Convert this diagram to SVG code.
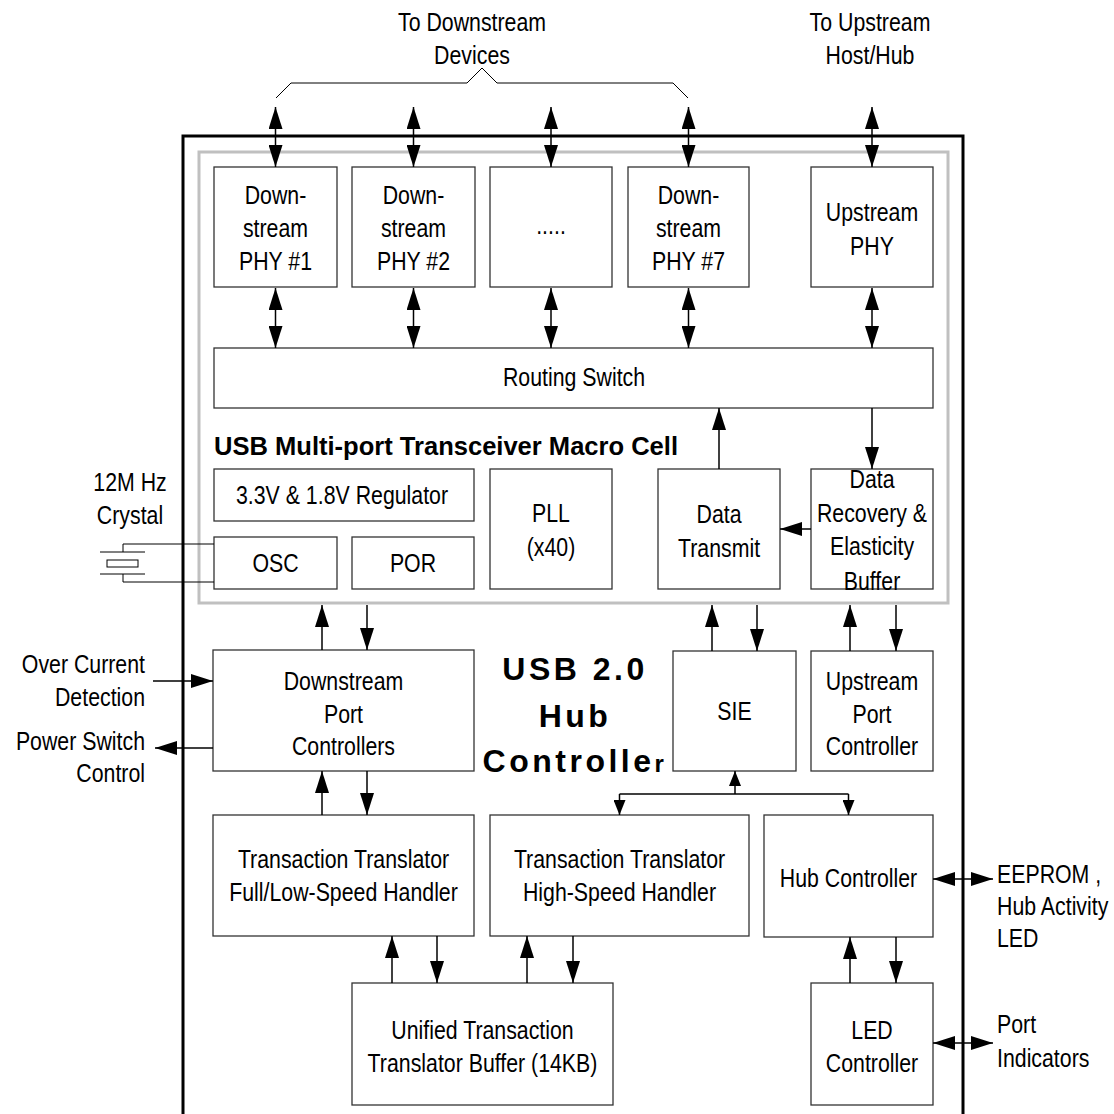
<svg xmlns="http://www.w3.org/2000/svg" width="1114" height="1114" viewBox="0 0 1114 1114">
<style>
.box{fill:#fff;stroke:#333;stroke-width:1.3}
.t{font-family:"Liberation Sans",Arial,sans-serif;font-size:26px;text-anchor:middle;fill:#000}
.l{text-anchor:start}
.r{text-anchor:end}
.c{stroke:#000;stroke-width:1.5;fill:none}
.thin{stroke:#000;stroke-width:1;fill:none}
.big{font-family:"Liberation Sans",Arial,sans-serif;font-weight:bold;font-size:32px;letter-spacing:3.5px;text-anchor:middle}
</style>
<defs>
<marker id="ah" viewBox="0 0 22 14" refX="22" refY="7" markerWidth="22" markerHeight="14" markerUnits="userSpaceOnUse" orient="auto-start-reverse"><path d="M0,0 L22,7 L0,14 z" fill="#000"/></marker>
<marker id="sm" viewBox="0 0 15 12" refX="15" refY="6" markerWidth="15" markerHeight="12" markerUnits="userSpaceOnUse" orient="auto-start-reverse"><path d="M0,0 L15,6 L0,12 z" fill="#000"/></marker>
</defs>
<rect width="1114" height="1114" fill="#fff"/>

<g id="outer-hub">
<rect x="183" y="136" width="780" height="1000" fill="none" stroke="#000" stroke-width="3"/>
</g>
<g id="macro-cell">
<rect x="199" y="152" width="749" height="451" fill="none" stroke="#c0c0c0" stroke-width="3"/>
<text class="t l" x="214" y="455" font-weight="bold" font-size="27" textLength="464" lengthAdjust="spacingAndGlyphs">USB Multi-port Transceiver Macro Cell</text>
</g>

<g id="phy1"><rect class="box" x="214" y="167" width="123" height="120"/><g transform="translate(275.5,0) scale(0.82,1)"><text class="t" x="0" y="204">Down-</text><text class="t" x="0" y="237">stream</text><text class="t" x="0" y="270">PHY #1</text></g></g>
<g id="phy2"><rect class="box" x="352" y="167" width="123" height="120"/><g transform="translate(413.5,0) scale(0.82,1)"><text class="t" x="0" y="204">Down-</text><text class="t" x="0" y="237">stream</text><text class="t" x="0" y="270">PHY #2</text></g></g>
<g id="phy-more"><rect class="box" x="490" y="167" width="122" height="120"/><g transform="translate(551,0) scale(0.82,1)"><text class="t" x="0" y="234">.....</text></g></g>
<g id="phy7"><rect class="box" x="628" y="167" width="121" height="120"/><g transform="translate(688.5,0) scale(0.82,1)"><text class="t" x="0" y="204">Down-</text><text class="t" x="0" y="237">stream</text><text class="t" x="0" y="270">PHY #7</text></g></g>
<g id="upstream-phy"><rect class="box" x="811" y="167" width="122" height="120"/><g transform="translate(872,0) scale(0.82,1)"><text class="t" x="0" y="221">Upstream</text><text class="t" x="0" y="255">PHY</text></g></g>

<g id="routing-switch"><rect class="box" x="214" y="348" width="719" height="60"/><g transform="translate(574,0) scale(0.82,1)"><text class="t" x="0" y="386">Routing Switch</text></g></g>

<g id="regulator"><rect class="box" x="214" y="469" width="260" height="52"/><g transform="translate(342,0) scale(0.82,1)"><text class="t" x="0" y="504">3.3V &amp; 1.8V Regulator</text></g></g>
<g id="osc"><rect class="box" x="214" y="537" width="123" height="52"/><g transform="translate(275.5,0) scale(0.82,1)"><text class="t" x="0" y="572">OSC</text></g></g>
<g id="por"><rect class="box" x="352" y="537" width="122" height="52"/><g transform="translate(413,0) scale(0.82,1)"><text class="t" x="0" y="572">POR</text></g></g>
<g id="pll"><rect class="box" x="490" y="469" width="122" height="120"/><g transform="translate(551,0) scale(0.82,1)"><text class="t" x="0" y="522">PLL</text><text class="t" x="0" y="556">(x40)</text></g></g>
<g id="data-transmit"><rect class="box" x="658" y="469" width="122" height="120"/><g transform="translate(719,0) scale(0.82,1)"><text class="t" x="0" y="523">Data</text><text class="t" x="0" y="557">Transmit</text></g></g>
<g id="data-recovery"><rect class="box" x="811" y="469" width="122" height="120"/><g transform="translate(872,0) scale(0.82,1)"><text class="t" x="0" y="488">Data</text><text class="t" x="0" y="522">Recovery &amp;</text><text class="t" x="0" y="555">Elasticity</text><text class="t" x="0" y="590">Buffer</text></g></g>

<g id="crystal">
<g transform="translate(130,0) scale(0.82,1)"><text class="t" x="0" y="491">12M Hz</text><text class="t" x="0" y="524">Crystal</text></g>
<path class="thin" d="M214,544 H123 V552 M100,552 H145 M100,574 H145 M123,574 V582 H214"/>
<rect x="107" y="560" width="31" height="7" fill="#fff" stroke="#000" stroke-width="1"/>
</g>

<g id="title">
<text class="big" x="575" y="680">USB 2.0</text>
<text class="big" x="575" y="727">Hub</text>
<text class="big" x="575" y="772">Controlle<tspan font-size="24">r</tspan></text>
</g>

<g id="downstream-port-controllers"><rect class="box" x="213" y="650" width="261" height="121"/><g transform="translate(343.5,0) scale(0.82,1)"><text class="t" x="0" y="690">Downstream</text><text class="t" x="0" y="723">Port</text><text class="t" x="0" y="755">Controllers</text></g></g>
<g id="sie"><rect class="box" x="673" y="651" width="123" height="120"/><g transform="translate(734.5,0) scale(0.82,1)"><text class="t" x="0" y="720">SIE</text></g></g>
<g id="upstream-port-controller"><rect class="box" x="811" y="651" width="122" height="120"/><g transform="translate(872,0) scale(0.82,1)"><text class="t" x="0" y="690">Upstream</text><text class="t" x="0" y="723">Port</text><text class="t" x="0" y="755">Controller</text></g></g>

<g id="tt-fls"><rect class="box" x="213" y="815" width="261" height="121"/><g transform="translate(343.5,0) scale(0.82,1)"><text class="t" x="0" y="868">Transaction Translator</text><text class="t" x="0" y="901">Full/Low-Speed Handler</text></g></g>
<g id="tt-hs"><rect class="box" x="490" y="815" width="259" height="121"/><g transform="translate(619.5,0) scale(0.82,1)"><text class="t" x="0" y="868">Transaction Translator</text><text class="t" x="0" y="901">High-Speed Handler</text></g></g>
<g id="hub-controller"><rect class="box" x="764" y="815" width="169" height="122"/><g transform="translate(848.5,0) scale(0.82,1)"><text class="t" x="0" y="887">Hub Controller</text></g></g>

<g id="unified-buffer"><rect class="box" x="352" y="983" width="261" height="122"/><g transform="translate(482.5,0) scale(0.82,1)"><text class="t" x="0" y="1039">Unified Transaction</text><text class="t" x="0" y="1072">Translator Buffer (14KB)</text></g></g>
<g id="led-controller"><rect class="box" x="811" y="983" width="122" height="122"/><g transform="translate(872,0) scale(0.82,1)"><text class="t" x="0" y="1039">LED</text><text class="t" x="0" y="1072">Controller</text></g></g>

<g id="external-labels">
<g transform="translate(472,0) scale(0.82,1)"><text class="t" x="0" y="31">To Downstream</text><text class="t" x="0" y="64">Devices</text></g>
<g transform="translate(870,0) scale(0.82,1)"><text class="t" x="0" y="31">To Upstream</text><text class="t" x="0" y="64">Host/Hub</text></g>
<g transform="translate(145,0) scale(0.82,1)"><text class="t r" x="0" y="673">Over Current</text><text class="t r" x="0" y="706">Detection</text><text class="t r" x="0" y="750">Power Switch</text><text class="t r" x="0" y="782">Control</text></g>
<g transform="translate(997,0) scale(0.82,1)"><text class="t l" x="0" y="883">EEPROM ,</text><text class="t l" x="0" y="915">Hub Activity</text><text class="t l" x="0" y="947">LED</text><text class="t l" x="0" y="1033">Port</text><text class="t l" x="0" y="1067">Indicators</text></g>
</g>

<g id="connectors">
<path class="thin" d="M276,98 L291,83 H467 L482,68 L497,83 H673 L688,98"/>
<line class="c" x1="275.5" y1="107" x2="275.5" y2="167" marker-start="url(#ah)" marker-end="url(#ah)"/>
<line class="c" x1="413.5" y1="107" x2="413.5" y2="167" marker-start="url(#ah)" marker-end="url(#ah)"/>
<line class="c" x1="551" y1="107" x2="551" y2="167" marker-start="url(#ah)" marker-end="url(#ah)"/>
<line class="c" x1="688.5" y1="107" x2="688.5" y2="167" marker-start="url(#ah)" marker-end="url(#ah)"/>
<line class="c" x1="872" y1="107" x2="872" y2="167" marker-start="url(#ah)" marker-end="url(#ah)"/>
<line class="c" x1="275.5" y1="288" x2="275.5" y2="348" marker-start="url(#ah)" marker-end="url(#ah)"/>
<line class="c" x1="413.5" y1="288" x2="413.5" y2="348" marker-start="url(#ah)" marker-end="url(#ah)"/>
<line class="c" x1="551" y1="288" x2="551" y2="348" marker-start="url(#ah)" marker-end="url(#ah)"/>
<line class="c" x1="688.5" y1="288" x2="688.5" y2="348" marker-start="url(#ah)" marker-end="url(#ah)"/>
<line class="c" x1="872" y1="288" x2="872" y2="348" marker-start="url(#ah)" marker-end="url(#ah)"/>
<line class="c" x1="719" y1="469" x2="719" y2="408" marker-end="url(#ah)"/>
<line class="c" x1="872" y1="408" x2="872" y2="469" marker-end="url(#ah)"/>
<line class="c" x1="811" y1="529" x2="780" y2="529" marker-end="url(#ah)"/>
<line class="c" x1="322" y1="650" x2="322" y2="605" marker-end="url(#ah)"/>
<line class="c" x1="367" y1="605" x2="367" y2="650" marker-end="url(#ah)"/>
<line class="c" x1="712" y1="651" x2="712" y2="605" marker-end="url(#ah)"/>
<line class="c" x1="757" y1="605" x2="757" y2="651" marker-end="url(#ah)"/>
<line class="c" x1="850" y1="651" x2="850" y2="605" marker-end="url(#ah)"/>
<line class="c" x1="896" y1="605" x2="896" y2="651" marker-end="url(#ah)"/>
<line class="c" x1="153" y1="681" x2="213" y2="681" marker-end="url(#ah)"/>
<line class="c" x1="213" y1="748" x2="155" y2="748" marker-end="url(#ah)"/>
<line class="c" x1="322" y1="815" x2="322" y2="771" marker-end="url(#ah)"/>
<line class="c" x1="367" y1="771" x2="367" y2="815" marker-end="url(#ah)"/>
<line class="c" x1="735" y1="794" x2="735" y2="771" marker-end="url(#sm)"/>
<path class="c" d="M619.5,794 H848.5"/>
<line class="c" x1="619.5" y1="794" x2="619.5" y2="815" marker-end="url(#sm)"/>
<line class="c" x1="848.5" y1="794" x2="848.5" y2="815" marker-end="url(#sm)"/>
<line class="c" x1="392" y1="983" x2="392" y2="936" marker-end="url(#ah)"/>
<line class="c" x1="437" y1="936" x2="437" y2="983" marker-end="url(#ah)"/>
<line class="c" x1="527" y1="983" x2="527" y2="936" marker-end="url(#ah)"/>
<line class="c" x1="573" y1="936" x2="573" y2="983" marker-end="url(#ah)"/>
<line class="c" x1="850" y1="983" x2="850" y2="937" marker-end="url(#ah)"/>
<line class="c" x1="896" y1="937" x2="896" y2="983" marker-end="url(#ah)"/>
<line class="c" x1="933" y1="879" x2="993" y2="879" marker-start="url(#ah)" marker-end="url(#ah)"/>
<line class="c" x1="933" y1="1043" x2="993" y2="1043" marker-start="url(#ah)" marker-end="url(#ah)"/>
</g>
</svg>
